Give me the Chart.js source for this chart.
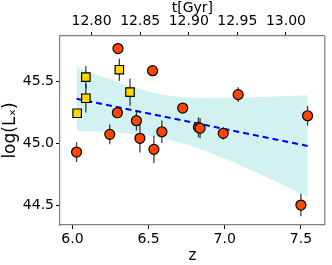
<!DOCTYPE html>
<html>
<head>
<meta charset="utf-8">
<script src="https://cdn.jsdelivr.net/npm/chart.js@4.4.1/dist/chart.umd.min.js"></script>
<style>
  html, body { margin: 0; padding: 0; background: #fff; }
  canvas { display: block; }
</style>
</head>
<body>
<canvas id="lxChart" width="332" height="265"></canvas>
<script>
// red sources: redshift, log(Lx), error
const redZ   = [6.027, 6.245, 6.299, 6.295, 6.420, 6.443, 6.526, 6.535, 6.587, 6.724, 6.827, 6.838, 6.990, 7.088, 7.500, 7.544];
const redL   = [44.931, 45.074, 45.766, 45.248, 45.184, 45.042, 45.587, 44.953, 45.095, 45.286, 45.131, 45.123, 45.082, 45.394, 44.504, 45.224];
const redErr = [0.08, 0.08, 0.02, 0.03, 0.08, 0.115, 0.04, 0.11, 0.09, 0.02, 0.08, 0.08, 0.05, 0.06, 0.09, 0.08];

// yellow sources
const yelZ   = [6.031, 6.088, 6.088, 6.308, 6.378];
const yelL   = [45.244, 45.536, 45.365, 45.595, 45.415];
const yelErr = [0.03, 0.09, 0.115, 0.09, 0.11];

// linear fit + confidence band
const fitZ = [6.027, 7.544];
const fitL = [45.361, 44.980];
const bandZ     = [6.027, 6.20, 6.42, 6.637, 6.855, 7.073, 7.29, 7.544];
const bandUpper = [45.617, 45.539, 45.445, 45.385, 45.365, 45.369, 45.377, 45.389];
const bandLower = [45.101, 45.095, 45.074, 45.028, 44.948, 44.840, 44.719, 44.571];

// tick labels
const zTicks = [6.0, 6.5, 7.0, 7.5];
const lTicks = [44.5, 45.0, 45.5];
const tTicks = [12.80, 12.85, 12.90, 12.95, 13.00];

const FONT = "'DejaVu Sans', sans-serif";
const SPINE = "#7f7f7f";

function pts(xs, ys) {
    return xs.map((x, i) => ({ x: x, y: ys[i] }));
}

// vertical error bars, drawn right after the fit line so markers sit on top
const errorBars = {
    id: "errorBars",
    afterDatasetDraw(chart, args) {
        if (args.index !== 2) return;
        const ctx = chart.ctx;
        const xs = chart.scales.x, ys = chart.scales.y;
        ctx.save();
        ctx.strokeStyle = "rgba(0,0,0,0.75)";
        ctx.lineWidth = 1.3;
        const draw = (zs, ls, es) => {
            zs.forEach((z, i) => {
                const px = xs.getPixelForValue(z);
                ctx.beginPath();
                ctx.moveTo(px, ys.getPixelForValue(ls[i] - es[i]));
                ctx.lineTo(px, ys.getPixelForValue(ls[i] + es[i]));
                ctx.stroke();
            });
        };
        draw(redZ, redL, redErr);
        draw(yelZ, yelL, yelErr);
        ctx.restore();
    }
};

// right-hand spine
const frame = {
    id: "frame",
    afterDraw(chart) {
        const a = chart.chartArea, ctx = chart.ctx;
        ctx.save();
        ctx.strokeStyle = SPINE;
        ctx.lineWidth = 1.2;
        ctx.beginPath();
        ctx.moveTo(a.right, a.top);
        ctx.lineTo(a.right, a.bottom);
        ctx.stroke();
        ctx.restore();
    }
};

function axisCommon(tickVals, digits) {
    return {
        type: "linear",
        afterBuildTicks: s => { s.ticks = tickVals.map(v => ({ value: v })); },
        ticks: {
            color: "#000",
            font: { family: FONT, size: 14 },
            padding: 2,
            autoSkip: false,
            maxRotation: 0,
            callback: v => Number(v).toFixed(digits)
        },
        grid: { display: true, drawOnChartArea: false, tickLength: 4, tickColor: "#000", tickWidth: 1 },
        border: { display: true, color: SPINE, width: 1.2 }
    };
}

const xAxis = axisCommon(zTicks, 1);
Object.assign(xAxis, {
    position: "bottom", min: 5.9183, max: 7.6569,
    title: { display: true, text: "z", color: "#000", font: { family: FONT, size: 15 }, padding: { top: 0, bottom: 0 } },
    afterFit: s => { s.height = 40; }
});

const tAxis = axisCommon(tTicks, 2);
Object.assign(tAxis, {
    position: "top", min: 12.7675, max: 13.04,
    title: { display: true, text: "t[Gyr]", color: "#000", font: { family: FONT, size: 14 }, padding: { top: 0, bottom: 0 } },
    afterFit: s => { s.height = 36; }
});

const yAxis = axisCommon(lTicks, 1);
Object.assign(yAxis, {
    position: "left", min: 44.343, max: 45.867,
    title: { display: true, text: "log(Lₓ)", color: "#000", font: { family: FONT, size: 17 }, padding: { top: 0, bottom: 2 } },
    afterFit: s => { s.width = 60; }
});

new Chart(document.getElementById("lxChart").getContext("2d"), {
    type: "scatter",
    data: {
        datasets: [
            {
                label: "red",
                data: pts(redZ, redL),
                pointStyle: "circle",
                pointRadius: 5,
                backgroundColor: "#ff4500",
                borderColor: "#000",
                borderWidth: 1.2,
                order: 1
            },
            {
                label: "yellow",
                data: pts(yelZ, yelL),
                pointStyle: "rect",
                pointRadius: 6,
                backgroundColor: "#ffd700",
                borderColor: "#000",
                borderWidth: 1.2,
                order: 2
            },
            {
                label: "fit",
                type: "line",
                data: pts(fitZ, fitL),
                borderColor: "#0000ff",
                borderWidth: 2,
                borderDash: [6, 4],
                pointRadius: 0,
                fill: false,
                order: 3
            },
            {
                label: "upper",
                type: "line",
                data: pts(bandZ, bandUpper),
                borderWidth: 0,
                borderColor: "rgba(0,0,0,0)",
                pointRadius: 0,
                cubicInterpolationMode: "monotone",
                fill: false,
                order: 4
            },
            {
                label: "lower",
                type: "line",
                data: pts(bandZ, bandLower),
                borderWidth: 0,
                borderColor: "rgba(0,0,0,0)",
                backgroundColor: "#d1f2f0",
                pointRadius: 0,
                cubicInterpolationMode: "monotone",
                fill: 3,
                order: 5
            }
        ]
    },
    options: {
        responsive: false,
        animation: false,
        layout: { padding: { left: 0, right: 6, top: 0, bottom: 0 } },
        plugins: { legend: { display: false }, tooltip: { enabled: false } },
        scales: { x: xAxis, x2: tAxis, y: yAxis }
    },
    plugins: [errorBars, frame]
});
</script>
</body>
</html>
